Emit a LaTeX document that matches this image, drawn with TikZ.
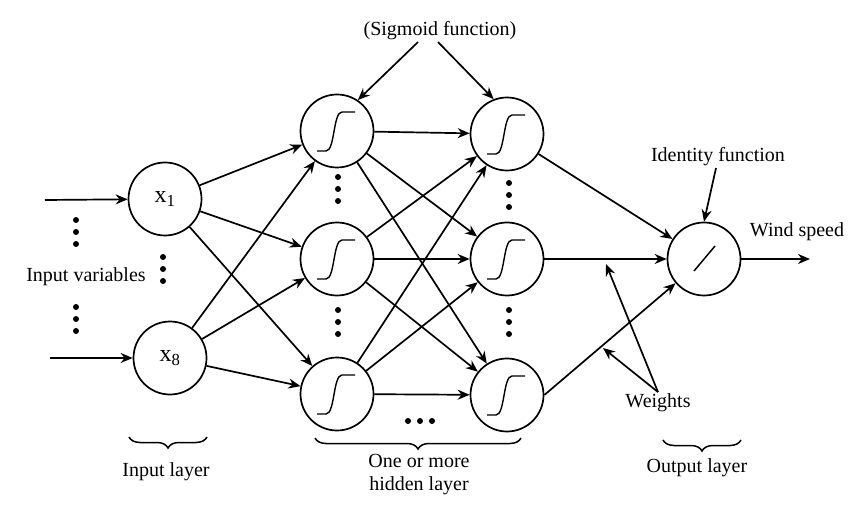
\documentclass[tikz,border=0pt]{standalone}
\usepackage{fontspec}
\setmainfont{Liberation Serif}
\usetikzlibrary{arrows.meta,decorations.pathreplacing}

\begin{document}
\begin{tikzpicture}[x=1pt,y=-1pt,line width=1.7pt,
        neuron/.style={shape=circle,draw=black,minimum size=73pt,inner sep=0pt},
        txt/.style={font=\fontsize{20}{23}\selectfont,inner sep=1pt},
        wire/.style={-{Stealth[length=12pt,width=10pt]}},
        layerbrace/.style={decorate,decoration={brace,amplitude=11pt},line width=1.5pt},
        sigmoid/.pic={\draw[line width=1.4pt] (-20,20) -- (-11,20) .. controls (-2,20) and (-4,-19) .. (5,-19) -- (18,-19);},
        identity/.pic={\draw[line width=1.5pt] (-10,12) -- (11,-13);}]
    \useasboundingbox (0,0) rectangle (850,510);

    % vertices
    \node[neuron,font=\fontsize{24}{26}\selectfont] (x1) at (165,199) {x\textsubscript{1}};
    \node[neuron,font=\fontsize{24}{26}\selectfont] (x8) at (170,358) {x\textsubscript{8}};
    \node[neuron] (h11) at (337,131) {};
    \node[neuron] (h12) at (337,259) {};
    \node[neuron] (h13) at (337,394) {};
    \node[neuron] (h21) at (507,134) {};
    \node[neuron] (h22) at (507,259) {};
    \node[neuron] (h23) at (507,395) {};
    \node[neuron] (out) at (704,259) {};
    \foreach \n in {h11,h12,h13,h21,h22,h23}
        \pic at (\n) {sigmoid};
    \pic at (out) {identity};

    % texts
    \node[txt] (sig) at (440,31) {(Sigmoid function)};
    \node[txt] (idf) at (718,157) {Identity function};
    \node[txt] (wind) at (797,232) {Wind speed};
    \node[txt] (invar) at (86,277) {Input variables};
    \node[txt] (wt) at (658,403) {Weights};
    \node[txt] (inlay) at (166,472) {Input layer};
    \node[txt,align=center] (hidlay) at (419,475) {One or more\\hidden layer};
    \node[txt] (outlay) at (697,468) {Output layer};

    \coordinate (in1) at (45,200);
    \coordinate (in8) at (50,358);
    \coordinate (wend) at (810,259);
    \coordinate (w1) at (606,264);
    \coordinate (w2) at (603,348);

    % edges
    \path [wire] (in1) edge (x1);
    \path [wire] (in8) edge (x8);
    \path [wire] (x1) edge (h11);
    \path [wire] (x1) edge (h12);
    \path [wire] (x1) edge (h13);
    \path [wire] (x8) edge (h11);
    \path [wire] (x8) edge (h12);
    \path [wire] (x8) edge (h13);
    \path [wire] (h11) edge (h21);
    \path [wire] (h11) edge (h22);
    \path [wire] (h11) edge (h23);
    \path [wire] (h12) edge (h21);
    \path [wire] (h12) edge (h22);
    \path [wire] (h12) edge (h23);
    \path [wire] (h13) edge (h21);
    \path [wire] (h13) edge (h22);
    \path [wire] (h13) edge (h23);
    \path [wire] (h21) edge (out);
    \path [wire] (h22) edge (out);
    \path [wire] (h23.east) edge (out);
    \path [wire] (out) edge (wend);

    % pointers
    \path [wire] ([xshift=-22pt]sig.south) edge (h11.56);
    \path [wire] ([xshift=-2pt]sig.south) edge (h21.111);
    \path [wire] ([xshift=-2pt]idf.south) edge (out.north);
    \path [wire] (wt.north) edge (w1);
    \path [wire] (wt.north) edge (w2);

    % dots
    \foreach \x/\y in {76/232,76/319,163/269,338/189,338/322,509/195,509/322}
        \foreach \d in {-12,0,12}
            \fill (\x,\y+\d) circle (3pt);
    \foreach \d in {-12,0,12}
        \fill (420+\d,421) circle (3pt);

    % braces
    \draw[layerbrace] (207,437) -- (129,437);
    \draw[layerbrace] (521,438) -- (315,438);
    \draw[layerbrace] (741,440) -- (663,440);
\end{tikzpicture}
\end{document}
